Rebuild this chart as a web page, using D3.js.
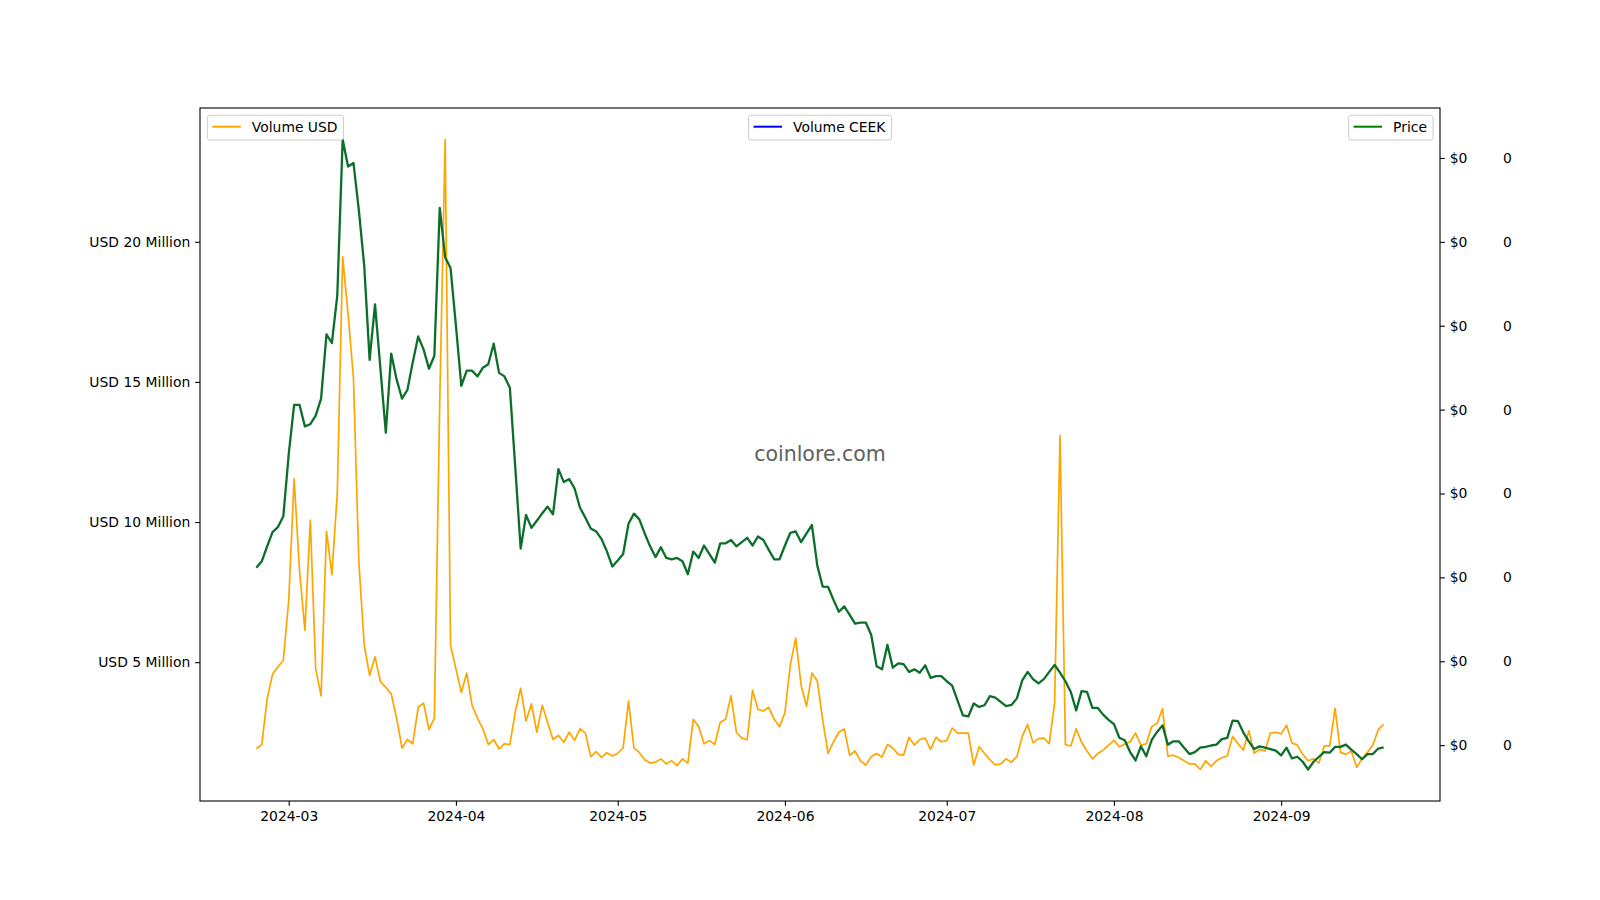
<!DOCTYPE html>
<html>
<head>
<meta charset="utf-8">
<script src="https://cdn.jsdelivr.net/npm/d3@7"></script>
<style>
  html, body { margin: 0; padding: 0; background: #fff; }
  svg { display: block; font-family: "DejaVu Sans", sans-serif; }
  .axis text { font-family: "DejaVu Sans", sans-serif; font-size: 13.9px; fill: #000; }
  .axis path, .axis line { stroke: #000; stroke-width: 1.1; }
</style>
</head>
<body>
<div id="chart"></div>
<script>
// daily series, first day 2024-02-24, one value per day up to 2024-09-20
var START_DATE = "2024-02-24";

// Volume USD, in millions
var volumeUsd = [
  1.91, 2.06, 3.69, 4.57, 4.84, 5.06, 7.20, 11.54, 8.27, 6.13,
  10.07, 4.76, 3.80, 9.68, 8.12, 11.02, 19.47, 17.43, 15.14, 8.58,
  5.60, 4.53, 5.19, 4.30, 4.10, 3.87, 3.00, 1.94, 2.24, 2.09,
  3.39, 3.54, 2.59, 3.00, 14.3, 23.65, 5.60, 4.76, 3.92, 4.61,
  3.46, 3.00, 2.62, 2.06, 2.24, 1.91, 2.09, 2.06, 3.23, 4.07,
  2.90, 3.51, 2.50, 3.46, 2.85, 2.24, 2.39, 2.14, 2.50, 2.21,
  2.62, 2.47, 1.63, 1.81, 1.60, 1.77, 1.65, 1.75, 1.94, 3.61,
  1.94, 1.78, 1.52, 1.40, 1.43, 1.55, 1.37, 1.48, 1.31, 1.55,
  1.40, 2.96, 2.70, 2.09, 2.20, 2.07, 2.85, 2.96, 3.81, 2.50,
  2.29, 2.23, 4.00, 3.31, 3.26, 3.39, 2.96, 2.70, 3.20, 4.91,
  5.86, 4.18, 3.42, 4.61, 4.33, 2.93, 1.74, 2.16, 2.50, 2.62,
  1.68, 1.83, 1.48, 1.33, 1.63, 1.74, 1.61, 2.06, 1.94, 1.71,
  1.68, 2.32, 2.04, 2.24, 2.29, 1.89, 2.32, 2.16, 2.20, 2.65,
  2.47, 2.47, 2.47, 1.33, 1.98, 1.74, 1.52, 1.33, 1.37, 1.55,
  1.43, 1.63, 2.35, 2.78, 2.12, 2.27, 2.29, 2.09, 3.54, 13.08,
  2.06, 2.01, 2.62, 2.14, 1.83, 1.55, 1.74, 1.86, 2.04, 2.21,
  1.98, 2.07, 2.16, 2.47, 2.04, 2.09, 2.70, 2.81, 3.34, 1.65,
  1.68, 1.60, 1.48, 1.37, 1.37, 1.17, 1.48, 1.28, 1.48, 1.59,
  1.65, 2.35, 2.09, 1.86, 2.55, 1.75, 1.89, 1.83, 2.47, 2.50,
  2.44, 2.75, 2.12, 2.04, 1.71, 1.48, 1.55, 1.40, 2.01, 2.01,
  3.35, 1.78, 1.71, 1.83, 1.25, 1.55, 1.78, 2.04, 2.59, 2.78
];

// Price, USD
var price = [
  0.02557, 0.02596, 0.02685, 0.02770, 0.02800, 0.02864, 0.03234, 0.03528, 0.03528, 0.03400,
  0.03413, 0.03464, 0.03566, 0.03949, 0.03897, 0.04179, 0.05110, 0.04949, 0.04970, 0.04689,
  0.04357, 0.03796, 0.04127, 0.03744, 0.03362, 0.03834, 0.03680, 0.03566, 0.03617, 0.03783,
  0.03936, 0.03859, 0.03744, 0.03821, 0.04702, 0.04408, 0.04344, 0.04000, 0.03642, 0.03732,
  0.03732, 0.03698, 0.03750, 0.03770, 0.03893, 0.03719, 0.03698, 0.03630, 0.03157, 0.02672,
  0.02872, 0.02795, 0.02838, 0.02882, 0.02922, 0.02876, 0.03145, 0.03068, 0.03086, 0.03030,
  0.02915, 0.02856, 0.02792, 0.02774, 0.02728, 0.02654, 0.02565, 0.02601, 0.02639, 0.02820,
  0.02880, 0.02846, 0.02762, 0.02685, 0.02621, 0.02680, 0.02616, 0.02608, 0.02616, 0.02596,
  0.02519, 0.02654, 0.02616, 0.02690, 0.02639, 0.02588, 0.02703, 0.02703, 0.02723, 0.02685,
  0.02710, 0.02736, 0.02690, 0.02744, 0.02723, 0.02664, 0.02608, 0.02608, 0.02690, 0.02766,
  0.02774, 0.02710, 0.02762, 0.02812, 0.02570, 0.02445, 0.02443, 0.02366, 0.02295, 0.02327,
  0.02277, 0.02225, 0.02231, 0.02231, 0.02157, 0.01970, 0.01952, 0.02098, 0.01962, 0.01988,
  0.01983, 0.01937, 0.01952, 0.01932, 0.01976, 0.01901, 0.01912, 0.01912, 0.01881, 0.01855,
  0.01766, 0.01677, 0.01671, 0.01748, 0.01728, 0.01738, 0.01792, 0.01784, 0.01758, 0.01733,
  0.01740, 0.01779, 0.01886, 0.01937, 0.01894, 0.01868, 0.01894, 0.01937, 0.01978, 0.01932,
  0.01881, 0.01817, 0.01707, 0.01822, 0.01817, 0.01722, 0.01722, 0.01682, 0.01651, 0.01625,
  0.01544, 0.01529, 0.01459, 0.01409, 0.01493, 0.01434, 0.01531, 0.01579, 0.01618, 0.01503,
  0.01523, 0.01523, 0.01485, 0.01447, 0.01459, 0.01485, 0.01490, 0.01498, 0.01503, 0.01536,
  0.01544, 0.01646, 0.01643, 0.01575, 0.01523, 0.01477, 0.01493, 0.01485, 0.01477, 0.01467,
  0.01439, 0.01485, 0.01421, 0.01431, 0.01401, 0.01355, 0.01401, 0.01431, 0.01459, 0.01455,
  0.01490, 0.01490, 0.01503, 0.01473, 0.01447, 0.01416, 0.01447, 0.01447, 0.01480, 0.01487
];

// Volume CEEK has no usable values in the source (line not visible)
var volumeCeek = [];

var volumeTicks = [5, 10, 15, 20];
var priceTicks = [0.015, 0.020, 0.025, 0.030, 0.035, 0.040, 0.045, 0.050];
var monthTicks = ["2024-03-01", "2024-04-01", "2024-05-01", "2024-06-01", "2024-07-01", "2024-08-01", "2024-09-01"];

var W = 1600, H = 900;
var M = { left: 200, right: 1440, top: 108, bottom: 801 };
var FS = 13.9;
var TICK = 4.86, PAD = 4.86;

var parse = d3.utcParse("%Y-%m-%d");
var t0 = parse(START_DATE);
var dates = volumeUsd.map(function(v, i) { return d3.utcDay.offset(t0, i); });

// matplotlib style 5% margins
function padded(ext) { var r = ext[1] - ext[0]; return [ext[0] - r * 0.05, ext[1] + r * 0.05]; }

var xExt = d3.extent(dates);
var xSpan = xExt[1] - xExt[0];
var x = d3.scaleUtc()
  .domain([new Date(+xExt[0] - xSpan * 0.05), new Date(+xExt[1] + xSpan * 0.05)])
  .range([M.left, M.right]);
var yVol = d3.scaleLinear().domain(padded(d3.extent(volumeUsd))).range([M.bottom, M.top]);
var yPrice = d3.scaleLinear().domain(padded(d3.extent(price))).range([M.bottom, M.top]);

var svg = d3.select("#chart").append("svg").attr("width", W).attr("height", H);
svg.append("rect").attr("width", W).attr("height", H).attr("fill", "#fff");

svg.append("clipPath").attr("id", "plot")
  .append("rect").attr("x", M.left).attr("y", M.top)
  .attr("width", M.right - M.left).attr("height", M.bottom - M.top);

// watermark
svg.append("text")
  .attr("x", (M.left + M.right) / 2).attr("y", (M.top + M.bottom) / 2 - 1)
  .attr("text-anchor", "middle").attr("dominant-baseline", "central")
  .style("font-size", "20.5px").style("fill", "#606060")
  .text("coinlore.com");

var g = svg.append("g").attr("clip-path", "url(#plot)");

g.append("path")
  .datum(volumeUsd)
  .attr("fill", "none").attr("stroke", "#ffa500").attr("stroke-width", 1.7)
  .attr("stroke-linejoin", "round")
  .attr("d", d3.line().x(function(d, i) { return x(dates[i]); }).y(function(d) { return yVol(d); }));

g.append("path")
  .datum(volumeCeek)
  .attr("fill", "none").attr("stroke", "#0000ff").attr("stroke-width", 1.7)
  .attr("d", d3.line().x(function(d, i) { return x(dates[i]); }).y(function(d) { return yPrice(d); }));

g.append("path")
  .datum(price)
  .attr("fill", "none").attr("stroke", "#0c6f29").attr("stroke-width", 2.3)
  .attr("stroke-linejoin", "round")
  .attr("d", d3.line().x(function(d, i) { return x(dates[i]); }).y(function(d) { return yPrice(d); }));

// axes
var fmtMonth = d3.utcFormat("%Y-%m");
var xAxis = svg.append("g").attr("class", "axis").attr("transform", "translate(0," + M.bottom + ")")
  .call(d3.axisBottom(x).tickValues(monthTicks.map(parse)).tickFormat(fmtMonth).tickSize(TICK).tickPadding(PAD).tickSizeOuter(0));
xAxis.select(".domain").remove();
xAxis.selectAll("text").attr("dy", "0.73em");

var yAxisL = svg.append("g").attr("class", "axis").attr("transform", "translate(" + M.left + ",0)")
  .call(d3.axisLeft(yVol).tickValues(volumeTicks).tickFormat(function(d) { return "USD " + d + " Million"; })
    .tickSize(TICK).tickPadding(PAD).tickSizeOuter(0));
yAxisL.select(".domain").remove();

var yAxisR = svg.append("g").attr("class", "axis").attr("transform", "translate(" + M.right + ",0)")
  .call(d3.axisRight(yPrice).tickValues(priceTicks).tickFormat(function(d) { return "$" + d3.format(".0f")(d); })
    .tickSize(TICK).tickPadding(PAD).tickSizeOuter(0));
yAxisR.select(".domain").remove();

// third axis for Volume CEEK (spine hidden, labels only)
var yAxisC = svg.append("g").attr("class", "axis").attr("transform", "translate(" + (M.right + 60) + ",0)")
  .call(d3.axisRight(yPrice).tickValues(priceTicks).tickFormat(function() { return "0"; })
    .tickSize(0).tickPadding(3).tickSizeOuter(0));
yAxisC.select(".domain").remove();
yAxisC.selectAll("line").remove();

svg.selectAll(".axis").attr("font-family", null).attr("font-size", null);

// frame
svg.append("rect")
  .attr("x", M.left).attr("y", M.top)
  .attr("width", M.right - M.left).attr("height", M.bottom - M.top)
  .attr("fill", "none").attr("stroke", "#000").attr("stroke-width", 1.1);

// legends
var legends = [
  { label: "Volume USD", color: "#ffa500", anchor: "left" },
  { label: "Volume CEEK", color: "#0000ff", anchor: "center" },
  { label: "Price", color: "#008000", anchor: "right" }
];

legends.forEach(function(L) {
  var lg = svg.append("g");
  var txt = lg.append("text").style("font-size", FS + "px").text(L.label);
  var tw = txt.node().getComputedTextLength();
  var bw = 5 + 28.5 + 11 + tw + 6, bh = 24.7;
  var bx;
  if (L.anchor === "left") bx = M.left + 7.3;
  else if (L.anchor === "right") bx = M.right - 7 - bw;
  else bx = (M.left + M.right) / 2 - bw / 2;
  var by = M.top + 7.3;
  lg.insert("rect", "text")
    .attr("x", bx).attr("y", by).attr("width", bw).attr("height", bh)
    .attr("rx", 2.5).attr("fill", "rgba(255,255,255,0.8)")
    .attr("stroke", "#cccccc").attr("stroke-width", 1);
  lg.append("line")
    .attr("x1", bx + 5).attr("x2", bx + 33.5)
    .attr("y1", by + 11.4).attr("y2", by + 11.4)
    .attr("stroke", L.color).attr("stroke-width", 2);
  txt.attr("x", bx + 44.5).attr("y", by + 11.4).attr("dominant-baseline", "central");
});
</script>
</body>
</html>
